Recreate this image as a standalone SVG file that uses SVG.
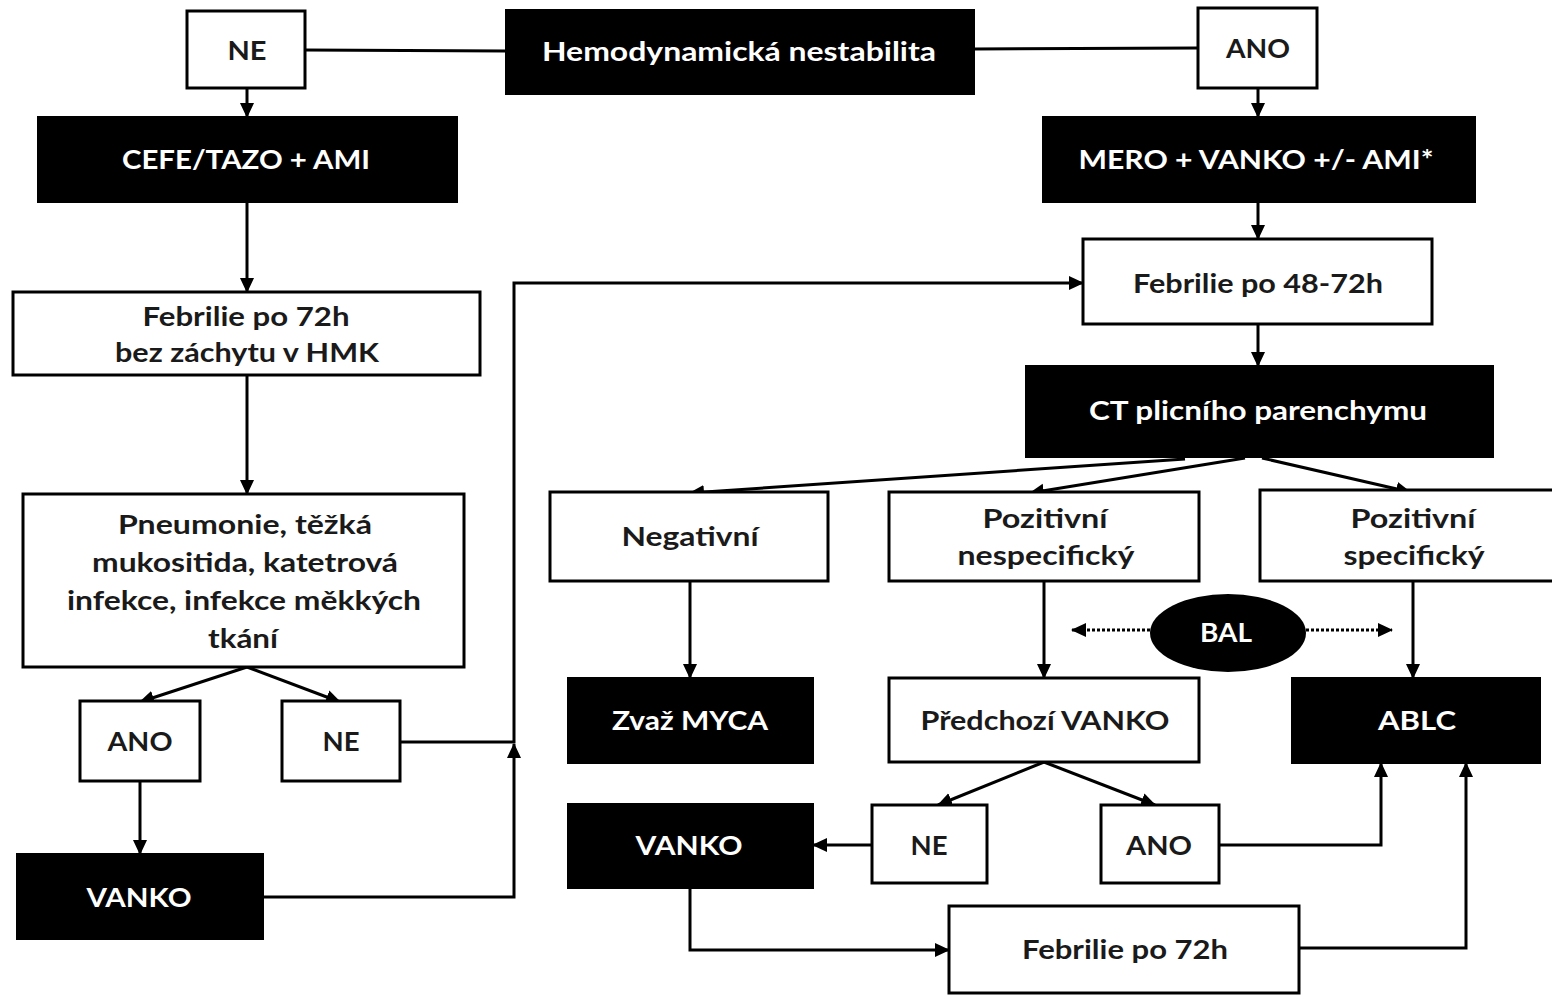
<svg xmlns="http://www.w3.org/2000/svg" width="1552" height="995" viewBox="0 0 1552 995">
<style>
.w{fill:#fff;stroke:#000;stroke-width:3}
.b{fill:#000;stroke:#000;stroke-width:2}
text{font-family:Lato,"Liberation Sans",sans-serif;font-weight:bold;font-size:26px;text-anchor:middle}
.tw{fill:#fff}
.tb{fill:#1a1a1a}
.c{fill:none;stroke:#000;stroke-width:3}
.d{fill:none;stroke:#000;stroke-width:3;stroke-dasharray:3 2}
</style>
<defs>
<marker id="a" markerUnits="userSpaceOnUse" markerWidth="16" markerHeight="16" refX="14" refY="8" orient="auto">
<path d="M0,1 L15,8 L0,15 Z" fill="#000"/>
</marker>
<marker id="as" markerUnits="userSpaceOnUse" markerWidth="16" markerHeight="16" refX="2" refY="8" orient="auto-start-reverse">
<path d="M0,1 L15,8 L0,15 Z" fill="#000"/>
</marker>
</defs>
<g id="connectors">
<path class="c" d="M305,50 L506,51"/>
<path class="c" d="M974,49 L1198,48"/>
<path class="c" d="M247,88 L247,117" marker-end="url(#a)"/>
<path class="c" d="M1258,88 L1258,117" marker-end="url(#a)"/>
<path class="c" d="M247,202 L247,292" marker-end="url(#a)"/>
<path class="c" d="M1258,202 L1258,239" marker-end="url(#a)"/>
<path class="c" d="M1258,324 L1258,366" marker-end="url(#a)"/>
<path class="c" d="M247,375 L247,494" marker-end="url(#a)"/>
<path class="c" d="M247,667 L140,702" marker-end="url(#a)"/>
<path class="c" d="M247,667 L340,702" marker-end="url(#a)"/>
<path class="c" d="M140,781 L140,854" marker-end="url(#a)"/>
<path class="c" d="M400,742 L514,742 L514,283 L1083,283" marker-end="url(#a)"/>
<path class="c" d="M263,897 L514,897 L514,744" marker-end="url(#a)"/>
<path class="c" d="M1185,459 L690,493" marker-end="url(#a)"/>
<path class="c" d="M1245,458 L1030,493" marker-end="url(#a)"/>
<path class="c" d="M1262,458 L1410,492" marker-end="url(#a)"/>
<path class="c" d="M690,581 L690,678" marker-end="url(#a)"/>
<path class="c" d="M1044,581 L1044,678" marker-end="url(#a)"/>
<path class="c" d="M1413,581 L1413,678" marker-end="url(#a)"/>
<path class="d" d="M1150,630 L1072,630" marker-end="url(#a)"/>
<path class="d" d="M1306,630 L1392,630" marker-end="url(#a)"/>
<path class="c" d="M1044,762 L938,805" marker-end="url(#a)"/>
<path class="c" d="M1044,762 L1155,805" marker-end="url(#a)"/>
<path class="c" d="M872,845 L813,845" marker-end="url(#a)"/>
<path class="c" d="M1219,845 L1381,845 L1381,763" marker-end="url(#a)"/>
<path class="c" d="M690,888 L690,950 L949,950" marker-end="url(#a)"/>
<path class="c" d="M1299,948 L1466,948 L1466,763" marker-end="url(#a)"/>
</g>
<g id="ne-top"><rect class="w" x="187" y="11" width="118" height="77"/><text class="tb" x="247" y="60" textLength="39" lengthAdjust="spacingAndGlyphs">NE</text></g>
<g id="hemo"><rect class="b" x="506" y="10" width="468" height="84"/><text class="tw" x="739" y="61" textLength="394" lengthAdjust="spacingAndGlyphs">Hemodynamická nestabilita</text></g>
<g id="ano-top"><rect class="w" x="1198" y="8" width="119" height="80"/><text class="tb" x="1258" y="58" textLength="64" lengthAdjust="spacingAndGlyphs">ANO</text></g>
<g id="cefe"><rect class="b" x="38" y="117" width="419" height="85"/><text class="tw" x="246" y="169" textLength="248" lengthAdjust="spacingAndGlyphs">CEFE/TAZO + AMI</text></g>
<g id="mero"><rect class="b" x="1043" y="117" width="432" height="85"/><text class="tw" x="1256" y="169" textLength="355" lengthAdjust="spacingAndGlyphs">MERO + VANKO +/- AMI*</text></g>
<g id="feb48"><rect class="w" x="1083" y="239" width="349" height="85"/><text class="tb" x="1258" y="293" textLength="250" lengthAdjust="spacingAndGlyphs">Febrilie po 48-72h</text></g>
<g id="feb72l"><rect class="w" x="13" y="292" width="467" height="83"/><text class="tb" x="246" y="326" textLength="207" lengthAdjust="spacingAndGlyphs">Febrilie po 72h</text><text class="tb" x="247" y="362" textLength="264" lengthAdjust="spacingAndGlyphs">bez záchytu v HMK</text></g>
<g id="ct"><rect class="b" x="1026" y="366" width="467" height="91"/><text class="tw" x="1258" y="420" textLength="338" lengthAdjust="spacingAndGlyphs">CT plicního parenchymu</text></g>
<g id="pneu"><rect class="w" x="23" y="494" width="441" height="173"/><text class="tb" x="245" y="534" textLength="254" lengthAdjust="spacingAndGlyphs">Pneumonie, těžká</text><text class="tb" x="245" y="572" textLength="306" lengthAdjust="spacingAndGlyphs">mukositida, katetrová</text><text class="tb" x="244" y="610" textLength="354" lengthAdjust="spacingAndGlyphs">infekce, infekce měkkých</text><text class="tb" x="243" y="648" textLength="70" lengthAdjust="spacingAndGlyphs">tkání</text></g>
<g id="neg"><rect class="w" x="550" y="492" width="278" height="89"/><text class="tb" x="690" y="546" textLength="137" lengthAdjust="spacingAndGlyphs">Negativní</text></g>
<g id="poznesp"><rect class="w" x="889" y="492" width="310" height="89"/><text class="tb" x="1045" y="528" textLength="125" lengthAdjust="spacingAndGlyphs">Pozitivní</text><text class="tb" x="1046" y="565" textLength="177" lengthAdjust="spacingAndGlyphs">nespecifický</text></g>
<g id="pozspec"><rect class="w" x="1260" y="490" width="300" height="91"/><text class="tb" x="1413" y="528" textLength="125" lengthAdjust="spacingAndGlyphs">Pozitivní</text><text class="tb" x="1414" y="565" textLength="141" lengthAdjust="spacingAndGlyphs">specifický</text></g>
<g id="bal"><ellipse cx="1228" cy="633" rx="78" ry="39" fill="#000"/><text class="tw" x="1226" y="642" textLength="52" lengthAdjust="spacingAndGlyphs">BAL</text></g>
<g id="zvaz"><rect class="b" x="568" y="678" width="245" height="85"/><text class="tw" x="690" y="730" textLength="156" lengthAdjust="spacingAndGlyphs">Zvaž MYCA</text></g>
<g id="predchozi"><rect class="w" x="889" y="678" width="310" height="84"/><text class="tb" x="1045" y="730" textLength="249" lengthAdjust="spacingAndGlyphs">Předchozí VANKO</text></g>
<g id="ablc"><rect class="b" x="1292" y="678" width="248" height="85"/><text class="tw" x="1417" y="730" textLength="78" lengthAdjust="spacingAndGlyphs">ABLC</text></g>
<g id="ano-l"><rect class="w" x="80" y="701" width="120" height="80"/><text class="tb" x="140" y="751" textLength="65" lengthAdjust="spacingAndGlyphs">ANO</text></g>
<g id="ne-l"><rect class="w" x="282" y="701" width="118" height="80"/><text class="tb" x="341" y="751" textLength="37" lengthAdjust="spacingAndGlyphs">NE</text></g>
<g id="vanko-l"><rect class="b" x="17" y="854" width="246" height="85"/><text class="tw" x="139" y="907" textLength="105" lengthAdjust="spacingAndGlyphs">VANKO</text></g>
<g id="vanko-r"><rect class="b" x="568" y="804" width="245" height="84"/><text class="tw" x="689" y="855" textLength="107" lengthAdjust="spacingAndGlyphs">VANKO</text></g>
<g id="ne-r"><rect class="w" x="872" y="805" width="115" height="78"/><text class="tb" x="929" y="855" textLength="37" lengthAdjust="spacingAndGlyphs">NE</text></g>
<g id="ano-r"><rect class="w" x="1101" y="805" width="118" height="78"/><text class="tb" x="1159" y="855" textLength="66" lengthAdjust="spacingAndGlyphs">ANO</text></g>
<g id="feb72b"><rect class="w" x="949" y="906" width="350" height="87"/><text class="tb" x="1125" y="959" textLength="206" lengthAdjust="spacingAndGlyphs">Febrilie po 72h</text></g>
</svg>
